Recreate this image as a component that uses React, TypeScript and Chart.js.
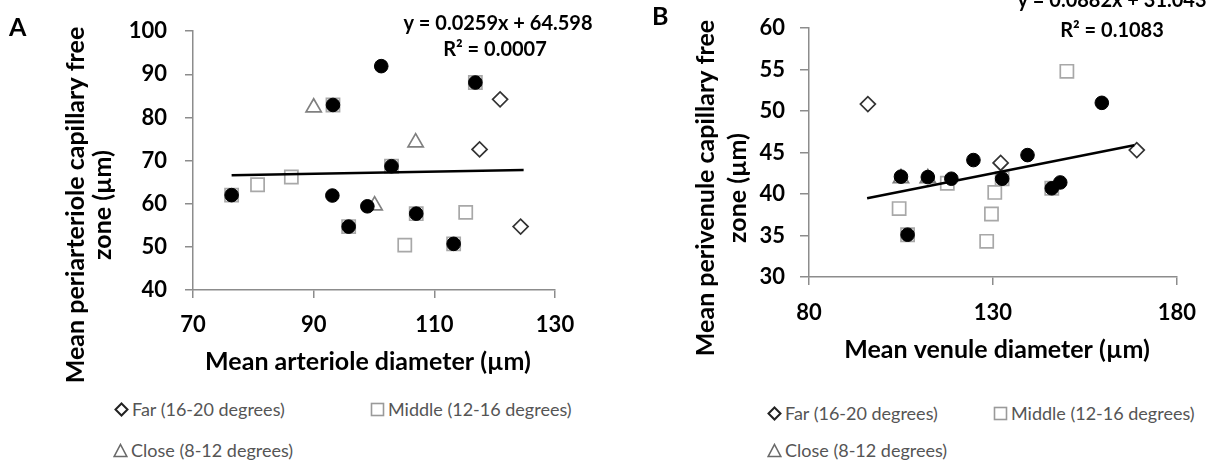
import React, { useEffect, useRef } from "react";
import { Chart, registerables } from "chart.js";

Chart.register(...registerables);

const FONT = "Lato, 'Open Sans', sans-serif";

// ---------- Panel A data ----------
const aFarX = [120.9, 117.5, 124.3];
const aFarY = [84.2, 72.6, 54.7];
const aMiddleX = [80.7, 86.3, 105.1, 115.2, 76.4, 93.2, 116.8, 102.9, 95.8, 113.2, 107.0];
const aMiddleY = [64.4, 66.2, 50.4, 58.0, 62.0, 82.9, 88.1, 68.7, 54.7, 50.7, 57.7];
const aCloseX = [90.0, 106.9, 100.1];
const aCloseY = [82.3, 74.2, 59.6];
const aFilledX = [76.4, 101.2, 116.8, 93.2, 102.9, 93.1, 98.9, 95.8, 107.0, 113.2];
const aFilledY = [62.0, 91.9, 88.1, 82.9, 68.7, 61.9, 59.4, 54.7, 57.7, 50.7];
const aTrendRange = [76.4, 124.8];
const aSlope = 0.0259;
const aIntercept = 64.598;
const aXTicks = [70, 130, 20];
const aYTicks = [40, 100, 10];

// ---------- Panel B data ----------
const bFarX = [96.0, 132.1, 169.1];
const bFarY = [50.85, 43.75, 45.3];
const bMiddleX = [104.5, 117.6, 130.5, 129.6, 128.3, 150.1, 106.8, 146.0, 132.5];
const bMiddleY = [38.25, 41.3, 40.2, 37.6, 34.3, 54.8, 35.1, 40.7, 41.85];
const bCloseX = [105.0, 112.3];
const bCloseY = [41.9, 41.9];
const bFilledX = [105.0, 112.3, 118.7, 124.7, 132.5, 139.4, 146.0, 148.3, 159.6, 106.8];
const bFilledY = [42.1, 42.05, 41.85, 44.1, 41.85, 44.7, 40.7, 41.4, 51.0, 35.1];
const bTrendRange = [95.8, 168.4];
const bSlope = 0.0882;
const bIntercept = 31.043;
const bXTicks = [80, 180, 50];
const bYTicks = [30, 60, 5];

const legendLabels = ["Far (16-20 degrees)", "Middle (12-16 degrees)", "Close (8-12 degrees)"];

const pts = (xs: number[], ys: number[]) => xs.map((x, i) => ({ x, y: ys[i] }));

const textPlugin = {
  id: "panelText",
  afterDraw(chart: any, _args: any, opts: any) {
    const ctx = chart.ctx;
    for (const t of opts.items || []) {
      ctx.save();
      ctx.font = t.font;
      ctx.fillStyle = t.color || "#000";
      ctx.textAlign = "center";
      ctx.textBaseline = "alphabetic";
      ctx.translate(t.x, t.y);
      if (t.rotate) ctx.rotate(t.rotate);
      ctx.fillText(t.text, 0, 0);
      ctx.restore();
    }
  },
};

type Cfg = {
  farX: number[]; farY: number[];
  midX: number[]; midY: number[];
  closeX: number[]; closeY: number[];
  fillX: number[]; fillY: number[];
  trend: number[]; slope: number; intercept: number;
  xTicks: number[]; yTicks: number[];
  width: number; height: number;
  yAxisW: number; xAxisH: number; padRight: number; padTop: number;
  yTickPad: number; yTickLen: number; xTickPad: number;
  texts: any[];
};

function Panel({ cfg, left }: { cfg: Cfg; left: number }) {
  const ref = useRef<HTMLCanvasElement>(null);
  useEffect(() => {
    const trendData = cfg.trend.map((x) => ({ x, y: cfg.slope * x + cfg.intercept }));
    const chart = new Chart(ref.current!, {
      type: "scatter",
      data: {
        datasets: [
          {
            label: "All",
            data: pts(cfg.fillX, cfg.fillY),
            pointStyle: "circle",
            pointRadius: 6.8,
            backgroundColor: "#000",
            borderColor: "#000",
            borderWidth: 1,
            order: 0,
          },
          {
            type: "line",
            label: "Trend",
            data: trendData,
            borderColor: "#000",
            borderWidth: 2.5,
            pointRadius: 0,
            showLine: true,
            fill: false,
            order: 1,
          } as any,
          {
            label: legendLabels[0],
            data: pts(cfg.farX, cfg.farY),
            pointStyle: "rectRot",
            pointRadius: 7.5,
            backgroundColor: "#fff",
            borderColor: "#333",
            borderWidth: 1.7,
            order: 2,
          },
          {
            label: legendLabels[2],
            data: pts(cfg.closeX, cfg.closeY),
            pointStyle: "triangle",
            pointRadius: 8.8,
            backgroundColor: "#fff",
            borderColor: "#808080",
            borderWidth: 1.7,
            order: 2,
          },
          {
            label: legendLabels[1],
            data: pts(cfg.midX, cfg.midY),
            pointStyle: "rect",
            pointRadius: 9.3,
            backgroundColor: "#fff",
            borderColor: "#a8a8a8",
            borderWidth: 1.7,
            order: 3,
          },
        ],
      },
      options: {
        animation: false,
        responsive: false,
        devicePixelRatio: 1,
        layout: { padding: { left: 0, right: cfg.padRight, top: cfg.padTop, bottom: 0 } },
        plugins: {
          legend: { display: false },
          tooltip: { enabled: false },
          panelText: { items: cfg.texts },
        } as any,
        scales: {
          x: {
            type: "linear",
            min: cfg.xTicks[0],
            max: cfg.xTicks[1],
            ticks: { stepSize: cfg.xTicks[2], color: "#000", font: { family: FONT, size: 22, weight: "bold" }, padding: cfg.xTickPad },
            grid: { drawOnChartArea: false, drawTicks: true, tickLength: 8, color: "#8c8c8c", lineWidth: 1.5 },
            border: { color: "#8c8c8c", width: 1.5 },
            afterFit: (s: any) => { s.height = cfg.xAxisH; },
          },
          y: {
            type: "linear",
            min: cfg.yTicks[0],
            max: cfg.yTicks[1],
            ticks: { stepSize: cfg.yTicks[2], color: "#000", font: { family: FONT, size: 22, weight: "bold" }, padding: cfg.yTickPad },
            grid: { drawOnChartArea: false, drawTicks: true, tickLength: cfg.yTickLen, color: "#8c8c8c", lineWidth: 1.5 },
            border: { color: "#8c8c8c", width: 1.5 },
            afterFit: (s: any) => { s.width = cfg.yAxisW; },
          },
        },
      },
      plugins: [textPlugin as any],
    });
    return () => chart.destroy();
  }, []);
  return (
    <canvas
      ref={ref}
      width={cfg.width}
      height={cfg.height}
      style={{ position: "absolute", left, top: 0, width: cfg.width, height: cfg.height }}
    />
  );
}

const TITLE = `bold 25px ${FONT}`;
const YTITLE = `bold 25px ${FONT}`;
const EQ = `bold 20px ${FONT}`;

const cfgA: Cfg = {
  farX: aFarX, farY: aFarY, midX: aMiddleX, midY: aMiddleY, closeX: aCloseX, closeY: aCloseY,
  fillX: aFilledX, fillY: aFilledY, trend: aTrendRange, slope: aSlope, intercept: aIntercept,
  xTicks: aXTicks, yTicks: aYTicks,
  width: 600, height: 385, yAxisW: 193, xAxisH: 95, padRight: 45, padTop: 25,
  yTickPad: 18, yTickLen: 8, xTickPad: 14,
  texts: [
    { text: "Mean arteriole diameter (µm)", x: 368, y: 370, font: TITLE },
    { text: "Mean periarteriole capillary free", x: 84, y: 205, font: YTITLE, rotate: -Math.PI / 2 },
    { text: "zone (µm)", x: 111, y: 205, font: YTITLE, rotate: -Math.PI / 2 },
    { text: "y = 0.0259x + 64.598", x: 498, y: 30, font: EQ },
    { text: "R² = 0.0007", x: 495, y: 56, font: EQ },
  ],
};

const cfgB: Cfg = {
  farX: bFarX, farY: bFarY, midX: bMiddleX, midY: bMiddleY, closeX: bCloseX, closeY: bCloseY,
  fillX: bFilledX, fillY: bFilledY, trend: bTrendRange, slope: bSlope, intercept: bIntercept,
  xTicks: bXTicks, yTicks: bYTicks,
  width: 611, height: 385, yAxisW: 209, xAxisH: 108, padRight: 27, padTop: 14,
  yTickPad: 15, yTickLen: 9, xTickPad: 15,
  texts: [
    { text: "Mean venule diameter (µm)", x: 397, y: 358, font: TITLE },
    { text: "Mean perivenule capillary free", x: 114, y: 188, font: YTITLE, rotate: -Math.PI / 2 },
    { text: "zone (µm)", x: 146, y: 188, font: YTITLE, rotate: -Math.PI / 2 },
    { text: "y = 0.0882x + 31.043", x: 512, y: 7, font: EQ },
    { text: "R² = 0.1083", x: 512, y: 37, font: EQ },
  ],
};

function Sym({ kind }: { kind: string }) {
  if (kind === "far")
    return (
      <svg width="15" height="15" viewBox="0 0 15 15">
        <polygon points="7.5,1.5 13.5,7.5 7.5,13.5 1.5,7.5" fill="#fff" stroke="#222" strokeWidth="2" />
      </svg>
    );
  if (kind === "mid")
    return (
      <svg width="15" height="15" viewBox="0 0 15 15">
        <rect x="1.5" y="1.5" width="12" height="12" fill="#fff" stroke="#9a9a9a" strokeWidth="1.6" />
      </svg>
    );
  return (
    <svg width="15" height="15" viewBox="0 0 15 15">
      <polygon points="7.5,1.5 13.8,13.5 1.2,13.5" fill="#fff" stroke="#6a6a6a" strokeWidth="1.6" />
    </svg>
  );
}

function LegendItem({ kind, label, x, y }: { kind: string; label: string; x: number; y: number }) {
  return (
    <div
      style={{
        position: "absolute",
        left: x,
        top: y - 12,
        height: 24,
        display: "flex",
        alignItems: "center",
        gap: 3,
        font: `18px ${FONT}`,
        color: "#555",
        whiteSpace: "nowrap",
      }}
    >
      <Sym kind={kind} />
      <span>{label}</span>
    </div>
  );
}

export default function App() {
  return (
    <div style={{ position: "fixed", left: 0, top: 0, width: 1211, height: 464, background: "#fff", overflow: "hidden" }}>
      <Panel cfg={cfgA} left={0} />
      <Panel cfg={cfgB} left={600} />
      <div style={{ position: "absolute", left: 9, top: 11, font: `bold 25px ${FONT}`, color: "#000" }}>A</div>
      <div style={{ position: "absolute", left: 652, top: 0, font: `bold 25px ${FONT}`, color: "#000" }}>B</div>
      <LegendItem kind="far" label={legendLabels[0]} x={114} y={409} />
      <LegendItem kind="mid" label={legendLabels[1]} x={370} y={409} />
      <LegendItem kind="close" label={legendLabels[2]} x={113} y={450} />
      <LegendItem kind="far" label={legendLabels[0]} x={767} y={413} />
      <LegendItem kind="mid" label={legendLabels[1]} x={993} y={413} />
      <LegendItem kind="close" label={legendLabels[2]} x={767} y={450} />
    </div>
  );
}
